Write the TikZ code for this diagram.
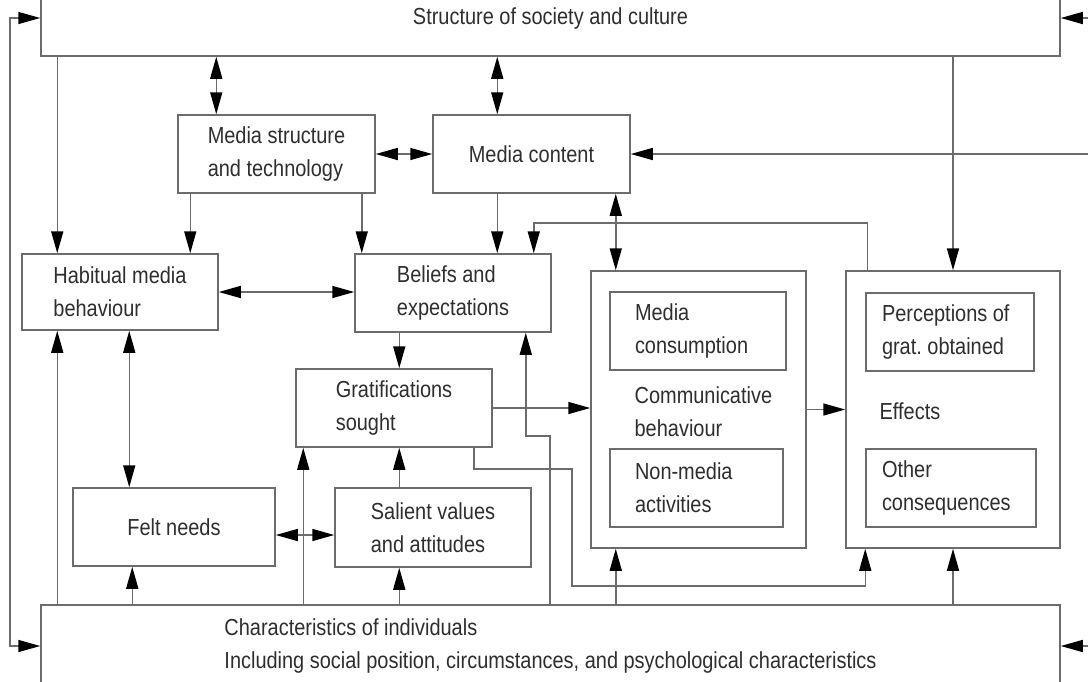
\documentclass[tikz,border=0pt]{standalone}
\usepackage{fontspec}
\setmainfont{Liberation Sans}[FakeStretch=0.86]
\usetikzlibrary{arrows.meta}

\definecolor{linegray}{HTML}{6C6C6C}
\definecolor{textgray}{HTML}{2E2E2E}

\tikzset{
  box/.style={draw=linegray, line width=0.75pt, align=left, text=textgray, inner sep=0pt},
  txt/.style={align=left, text=textgray, inner sep=0pt, anchor=west},
  arr/.style={draw=linegray, line width=0.75pt, -{Triangle[length=11pt,width=6pt,color=black]}},
  dbl/.style={draw=linegray, line width=0.75pt, {Triangle[length=11pt,width=6pt,color=black]}-{Triangle[length=11pt,width=6pt,color=black]}}
}

\begin{document}
\begin{tikzpicture}[x=0.5pt, y=-0.5pt, font=\fontsize{11.6}{16.5}\selectfont]
    \useasboundingbox (0,0) rectangle (1088,681);
    \clip (0,0) rectangle (1088,681);

    % Society at the top, individuals at the bottom (both cut by the frame)
    \node[box, minimum width=509.5pt, minimum height=38pt] (society) at (550.5,18) {Structure of society and culture};
    \node[box, minimum width=509.5pt, minimum height=41pt] (indiv) at (550.5,646) {Characteristics of individuals\\Including social position, circumstances, and psychological characteristics};

    % Media system
    \node[box, minimum width=98.5pt, minimum height=39pt] (structure) at (276.5,154) {Media structure\\and technology};
    \node[box, minimum width=98.5pt, minimum height=39pt] (content) at (531.5,154) {Media content};

    % Audience side
    \node[box, minimum width=98pt, minimum height=38pt] (habit) at (120,292) {Habitual media\\behaviour};
    \node[box, minimum width=98pt, minimum height=39pt] (beliefs) at (453,293) {Beliefs and\\expectations};
    \node[box, minimum width=98pt, minimum height=39pt] (grat) at (394,408) {Gratifications\\sought};
    \node[box, minimum width=101pt, minimum height=39pt] (felt) at (174,527) {Felt needs};
    \node[box, minimum width=98pt, minimum height=39.5pt] (salient) at (433,527.5) {Salient values\\and attitudes};

    % Communicative behaviour with its two parts
    \node[box, minimum width=107.5pt, minimum height=138.5pt] (comm) at (698.5,409.5) {};
    \node[txt] (commtxt) at ([xshift=22pt,yshift=-1pt]comm.west) {Communicative\\behaviour};
    \node[box, align=flush left, minimum height=39pt, text width=63pt, inner xsep=12.5pt] (mcons) at (698,331) {Media\\consumption};
    \node[box, align=flush left, minimum height=39pt, text width=61.5pt, inner xsep=12.5pt] (nonmedia) at (696.5,488) {Non-media\\activities};

    % Effects with its two parts
    \node[box, minimum width=107pt, minimum height=138.5pt] (effects) at (953,409.5) {};
    \node[txt] (effectstxt) at ([xshift=17pt,yshift=-1pt]effects.west) {Effects};
    \node[box, align=flush left, minimum height=39pt, text width=68pt, inner xsep=8pt] (percep) at (950,332) {Perceptions of\\grat.\ obtained};
    \node[box, align=flush left, minimum height=39pt, text width=69pt, inner xsep=8pt] (other) at (951,488) {Other\\consequences};

    % Ports and bends
    \coordinate (lbus) at (10,0);
    \coordinate (rbus) at (1100,0);
    \coordinate (fb) at (0,223);
    \coordinate (hA) at ([xshift=18pt]habit.north west);
    \coordinate (hB) at ([xshift=18pt]habit.south west);
    \coordinate (hC) at ([xshift=54pt]habit.south west);
    \coordinate (sA) at ([xshift=19.5pt]structure.north west);
    \coordinate (sB) at ([xshift=6.5pt]structure.south west);
    \coordinate (sC) at ([xshift=-7pt]structure.south east);
    \coordinate (cA) at ([xshift=32.5pt]content.north west);
    \coordinate (cB) at ([xshift=32.5pt]content.south west);
    \coordinate (cC) at ([xshift=-7.5pt]content.south east);
    \coordinate (bA) at ([xshift=-9pt]beliefs.north east);
    \coordinate (bB) at ([xshift=22.5pt]beliefs.south west);
    \coordinate (bC) at ([xshift=-13pt]beliefs.south east);
    \coordinate (gA) at ([xshift=4pt]grat.south west);
    \coordinate (gB) at ([xshift=-9.5pt]grat.south east);
    \coordinate (gk) at (572,469);
    \coordinate (gm) at (572,586);
    \coordinate (iA) at (550,436);
    \coordinate (vA) at ([xshift=32.5pt]salient.south west);
    \coordinate (fA) at ([xshift=30pt]felt.south west);
    \coordinate (fB) at ([yshift=-4pt]felt.east);
    \coordinate (eA) at ([xshift=11pt]effects.north west);
    \coordinate (eB) at ([xshift=10pt]effects.south west);

    % Out of society
    \draw[arr] (society.south -| hA) -- (hA);
    \draw[dbl] (society.south -| sA) -- (sA);
    \draw[dbl] (society.south -| cA) -- (cA);
    \draw[arr] (society.south -| effects.north) -- (effects.north);

    % Media system links
    \draw[dbl] (structure.east) -- (content.west);
    \draw[arr] (content.east -| rbus) -- (content.east);
    \draw[arr] (sB) -- (sB |- habit.north);
    \draw[arr] (sC) -- (sC |- beliefs.north);
    \draw[arr] (cB) -- (cB |- beliefs.north);
    \draw[dbl] (cC) -- (cC |- comm.north);
    \draw[arr] (eA) -- (eA |- fb) -| (bA);

    % Audience links
    \draw[dbl] (habit.east) -- (habit.east -| beliefs.west);
    \draw[arr] (bB) -- (bB |- grat.north);
    \draw[arr] (grat.east) -- (grat.east -| comm.west);
    \draw[arr] (comm.east) -- (comm.east -| effects.west);
    \draw[dbl] (hC) -- (hC |- felt.north);
    \draw[dbl] (fB) -- (fB -| salient.west);
    \draw[arr] (vA |- salient.north) -- (vA |- grat.south);
    \draw[arr] (gB) |- (gk) -- (gm) -| (eB);

    % Out of individuals
    \draw[arr] (hB |- indiv.north) -- (hB);
    \draw[arr] (fA |- indiv.north) -- (fA);
    \draw[arr] (gA |- indiv.north) -- (gA);
    \draw[arr] (vA |- indiv.north) -- (vA);
    \draw[arr] (iA |- indiv.north) -- (iA) -| (bC);
    \draw[arr] (cC |- indiv.north) -- (cC |- comm.south);
    \draw[arr] (effects.south |- indiv.north) -- (effects.south);

    % Feedback round the sides
    \draw[dbl] (society.west) -- (society.west -| lbus) |- (indiv.west);
    \draw[dbl] (society.east) -- (society.east -| rbus) |- (indiv.east);
\end{tikzpicture}
\end{document}
